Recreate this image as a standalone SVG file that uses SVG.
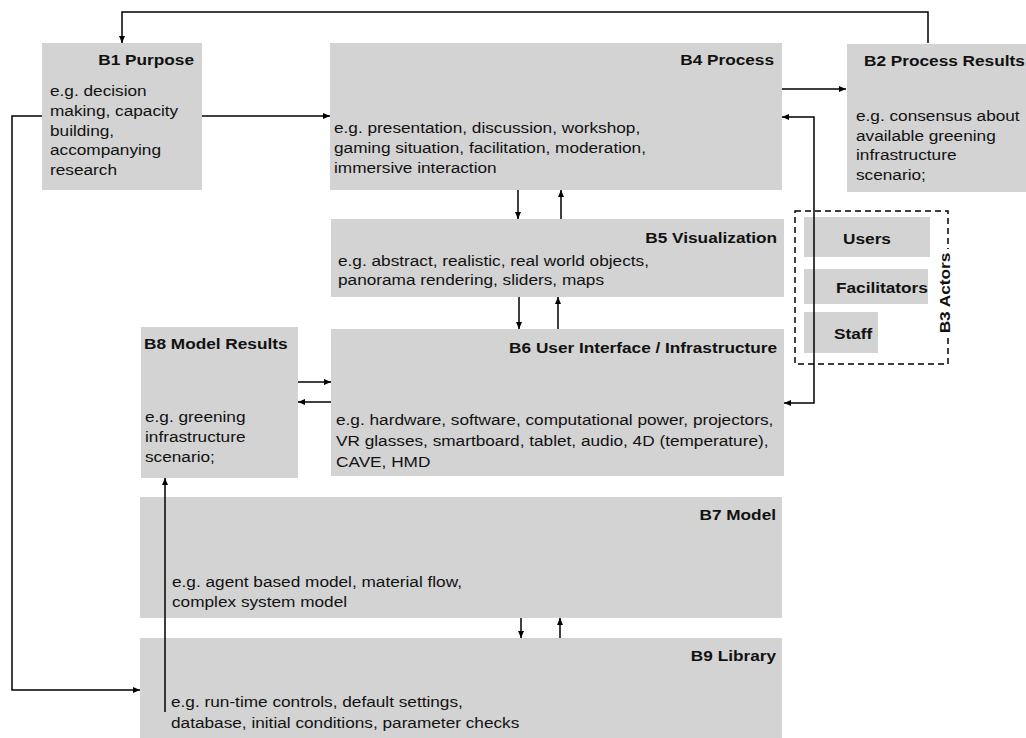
<svg xmlns="http://www.w3.org/2000/svg" width="1026" height="738" viewBox="0 0 1026 738">
<style>
.box{fill:#d3d3d3}
.t{font-family:"Liberation Sans",Arial,Helvetica,sans-serif;font-size:14px;fill:#111}
.b{font-weight:bold}
.e{text-anchor:end}
.m{text-anchor:middle}
.c{fill:none;stroke:#000;stroke-width:1.5}
.dash{fill:none;stroke:#000;stroke-width:1.5;stroke-dasharray:6 4}
</style>
<defs>
<marker id="ah" markerUnits="userSpaceOnUse" markerWidth="8" markerHeight="6" refX="7" refY="3" orient="auto-start-reverse">
<path d="M0,0 L7,3 L0,6 z" fill="#000"/>
</marker>
</defs>
<rect width="1026" height="738" fill="#fff"/>

<g id="B1">
<rect class="box" x="42" y="43" width="160" height="147"/>
<text class="t b e" transform="translate(194,65) scale(1.23,1)">B1 Purpose</text>
<text class="t" transform="translate(50,96) scale(1.23,1)"><tspan x="0" y="0">e.g. decision</tspan><tspan x="0" dy="19.8">making, capacity</tspan><tspan x="0" dy="19.8">building,</tspan><tspan x="0" dy="19.8">accompanying</tspan><tspan x="0" dy="19.8">research</tspan></text>
</g>

<g id="B4">
<rect class="box" x="330" y="43" width="452" height="147"/>
<text class="t b e" transform="translate(774,65) scale(1.23,1)">B4 Process</text>
<text class="t" transform="translate(334,133) scale(1.23,1)"><tspan x="0" y="0">e.g. presentation, discussion, workshop,</tspan><tspan x="0" dy="20">gaming situation, facilitation, moderation,</tspan><tspan x="0" dy="20">immersive interaction</tspan></text>
</g>

<g id="B2">
<rect class="box" x="847" y="44" width="179" height="148"/>
<text class="t b" transform="translate(864,66) scale(1.23,1)">B2 Process Results</text>
<text class="t" transform="translate(856,121) scale(1.23,1)"><tspan x="0" y="0">e.g. consensus about</tspan><tspan x="0" dy="19.7">available greening</tspan><tspan x="0" dy="19.7">infrastructure</tspan><tspan x="0" dy="19.7">scenario;</tspan></text>
</g>

<g id="B5">
<rect class="box" x="331" y="219" width="453" height="78"/>
<text class="t b e" transform="translate(777,243) scale(1.23,1)">B5 Visualization</text>
<text class="t" transform="translate(338,266) scale(1.23,1)"><tspan x="0" y="0">e.g. abstract, realistic, real world objects,</tspan><tspan x="0" dy="19">panorama rendering, sliders, maps</tspan></text>
</g>

<g id="B6">
<rect class="box" x="331" y="329" width="453" height="147"/>
<text class="t b e" transform="translate(777,353) scale(1.23,1)">B6 User Interface / Infrastructure</text>
<text class="t" transform="translate(336,425) scale(1.23,1)"><tspan x="0" y="0">e.g. hardware, software, computational power, projectors,</tspan><tspan x="0" dy="21">VR glasses, smartboard, tablet, audio, 4D (temperature),</tspan><tspan x="0" dy="21">CAVE, HMD</tspan></text>
</g>

<g id="B8">
<rect class="box" x="141" y="327" width="157" height="151"/>
<text class="t b" transform="translate(144,349) scale(1.23,1)">B8 Model Results</text>
<text class="t" transform="translate(145,422) scale(1.23,1)"><tspan x="0" y="0">e.g. greening</tspan><tspan x="0" dy="20">infrastructure</tspan><tspan x="0" dy="20">scenario;</tspan></text>
</g>

<g id="B7">
<rect class="box" x="140" y="497" width="642" height="121"/>
<text class="t b e" transform="translate(776,520) scale(1.23,1)">B7 Model</text>
<text class="t" transform="translate(172,587) scale(1.23,1)"><tspan x="0" y="0">e.g. agent based model, material flow,</tspan><tspan x="0" dy="20">complex system model</tspan></text>
</g>

<g id="B9">
<rect class="box" x="140" y="638" width="642" height="100"/>
<text class="t b e" transform="translate(776,661) scale(1.23,1)">B9 Library</text>
<text class="t" transform="translate(171,707) scale(1.23,1)"><tspan x="0" y="0">e.g. run-time controls, default settings,</tspan><tspan x="0" dy="21">database, initial conditions, parameter checks</tspan></text>
</g>

<g id="B3">
<rect class="dash" x="795" y="211" width="153" height="153"/>
<rect x="936" y="249" width="16" height="88" fill="#fff"/>
<text class="t b m" transform="translate(950,293) rotate(-90) scale(1.23,1)">B3 Actors</text>
<g id="B3-users">
<rect class="box" x="804" y="217" width="126" height="40"/>
<text class="t b m" transform="translate(867,244) scale(1.23,1)">Users</text>
</g>
<g id="B3-facilitators">
<rect class="box" x="804" y="269" width="124" height="35"/>
<text class="t b" transform="translate(836,293) scale(1.23,1)">Facilitators</text>
</g>
<g id="B3-staff">
<rect class="box" x="804" y="312" width="74" height="41"/>
<text class="t b" transform="translate(834,339) scale(1.23,1)">Staff</text>
</g>
</g>

<g id="connectors">
<path class="c" d="M928,43 V12 H122 V43" marker-end="url(#ah)"/>
<path class="c" d="M42,116 H12 V690 H140" marker-end="url(#ah)"/>
<path class="c" d="M202,116 H330" marker-end="url(#ah)"/>
<path class="c" d="M782,89 H846" marker-end="url(#ah)"/>
<path class="c" d="M782,117 H814 V403 H784" marker-start="url(#ah)" marker-end="url(#ah)"/>
<path class="c" d="M518,190 V219" marker-end="url(#ah)"/>
<path class="c" d="M561,219 V190" marker-end="url(#ah)"/>
<path class="c" d="M519,297 V329" marker-end="url(#ah)"/>
<path class="c" d="M558,329 V297" marker-end="url(#ah)"/>
<path class="c" d="M298,382 H331" marker-end="url(#ah)"/>
<path class="c" d="M331,402 H298" marker-end="url(#ah)"/>
<path class="c" d="M165,712 V478" marker-end="url(#ah)"/>
<path class="c" d="M521,618 V638" marker-end="url(#ah)"/>
<path class="c" d="M560,638 V618" marker-end="url(#ah)"/>
</g>
</svg>
